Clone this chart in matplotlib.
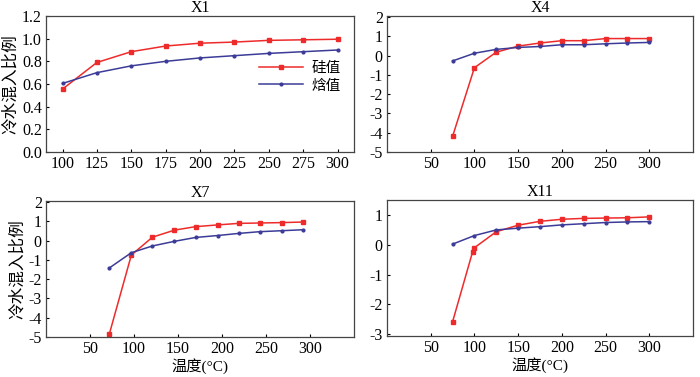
import matplotlib
matplotlib.use("Agg")
import matplotlib.pyplot as plt

plt.rcParams['font.family'] = ['Liberation Serif', 'Noto Sans CJK SC']
plt.rcParams['axes.unicode_minus'] = False

# X1
x1_si = [100, 125, 150, 175, 200, 225, 250, 275, 300]
y1_si = [0.555, 0.79, 0.885, 0.935, 0.96, 0.97, 0.985, 0.99, 0.995]
x1_hf = [100, 125, 150, 175, 200, 225, 250, 275, 300]
y1_hf = [0.605, 0.70, 0.76, 0.80, 0.83, 0.85, 0.87, 0.885, 0.90]

# X4
x4_si = [75, 100, 125, 150, 175, 200, 225, 250, 275, 300]
y4_si = [-4.19, -0.63, 0.175, 0.49, 0.65, 0.77, 0.77, 0.88, 0.88, 0.88]
x4_hf = [75, 100, 125, 150, 175, 200, 225, 250, 275, 300]
y4_hf = [-0.28, 0.12, 0.32, 0.42, 0.47, 0.56, 0.56, 0.61, 0.65, 0.68]

# X7
x7_si = [72, 97, 121, 146, 170, 195, 219, 243, 268, 292]
y7_si = [-4.84, -0.75, 0.175, 0.54, 0.72, 0.81, 0.89, 0.91, 0.93, 0.96]
x7_hf = [72, 97, 121, 146, 170, 195, 219, 243, 268, 292]
y7_hf = [-1.42, -0.63, -0.28, -0.04, 0.16, 0.26, 0.37, 0.46, 0.51, 0.56]

# X11
x11_si = [75, 98, 100, 125, 150, 175, 200, 225, 250, 275, 300]
y11_si = [-2.59, -0.22, -0.09, 0.45, 0.67, 0.80, 0.87, 0.90, 0.91, 0.92, 0.95]
x11_hf = [75, 100, 125, 150, 175, 200, 225, 250, 275, 300]
y11_hf = [0.03, 0.32, 0.51, 0.57, 0.62, 0.68, 0.72, 0.76, 0.78, 0.79]

red = '#ee2b2b'
blue = '#3c3c98'

fig = plt.figure(figsize=(7, 3.77), dpi=100)
W, H = 700, 377


def add_ax(l, t, r, b):
    return fig.add_axes([l / W, 1 - b / H, (r - l) / W, (b - t) / H])


panels = [
    (add_ax(46, 16, 354, 152), 'X1', x1_si, y1_si, x1_hf, y1_hf,
     (88, 312), range(100, 301, 25), (0, 1.2), [0.0, 0.2, 0.4, 0.6, 0.8, 1.0, 1.2]),
    (add_ax(387, 16, 693, 152), 'X4', x4_si, y4_si, x4_hf, y4_hf,
     (0, 350), range(50, 301, 50), (-5, 2.05), range(-5, 3)),
    (add_ax(46, 201, 354, 337), 'X7', x7_si, y7_si, x7_hf, y7_hf,
     (0, 350), range(50, 301, 50), (-5, 2.05), range(-5, 3)),
    (add_ax(387, 200, 693, 336), 'X11', x11_si, y11_si, x11_hf, y11_hf,
     (0, 350), range(50, 301, 50), (-3.07, 1.52), range(-3, 2)),
]

for i, (ax, title, xs, ys, xh, yh, xl, xt, yl, yt) in enumerate(panels):
    ax.plot(xs, ys, color=red, marker='s', markersize=3.2, lw=1.1, label='硅值')
    ax.plot(xh, yh, color=blue, marker='.', markersize=4, lw=1.1, label='焓值')
    ax.set_xlim(*xl)
    ax.set_xticks(list(xt))
    ax.set_ylim(*yl)
    ax.set_yticks(list(yt))
    if title == 'X1':
        ax.set_yticklabels(['%.1f' % v for v in yt])
    ax.set_title(title, fontsize=11.5, pad=2)
    ax.tick_params(labelsize=11.5, length=2.5, direction='in', pad=3)
    for s in ax.spines.values():
        s.set_color('#444444')
        s.set_linewidth(0.9)
    if i % 2 == 0:
        ax.set_ylabel('冷水混入比例', fontsize=12, labelpad=2)
    if i >= 2:
        ax.set_xlabel('温度(°C)', fontsize=11, labelpad=0.5)
    if title == 'X1':
        ax.legend(loc='center right', bbox_to_anchor=(1.0, 0.55), frameon=False,
                  fontsize=10.5, handlelength=3, handletextpad=0.6, labelspacing=0.3)

fig.savefig('out.png', dpi=100)
